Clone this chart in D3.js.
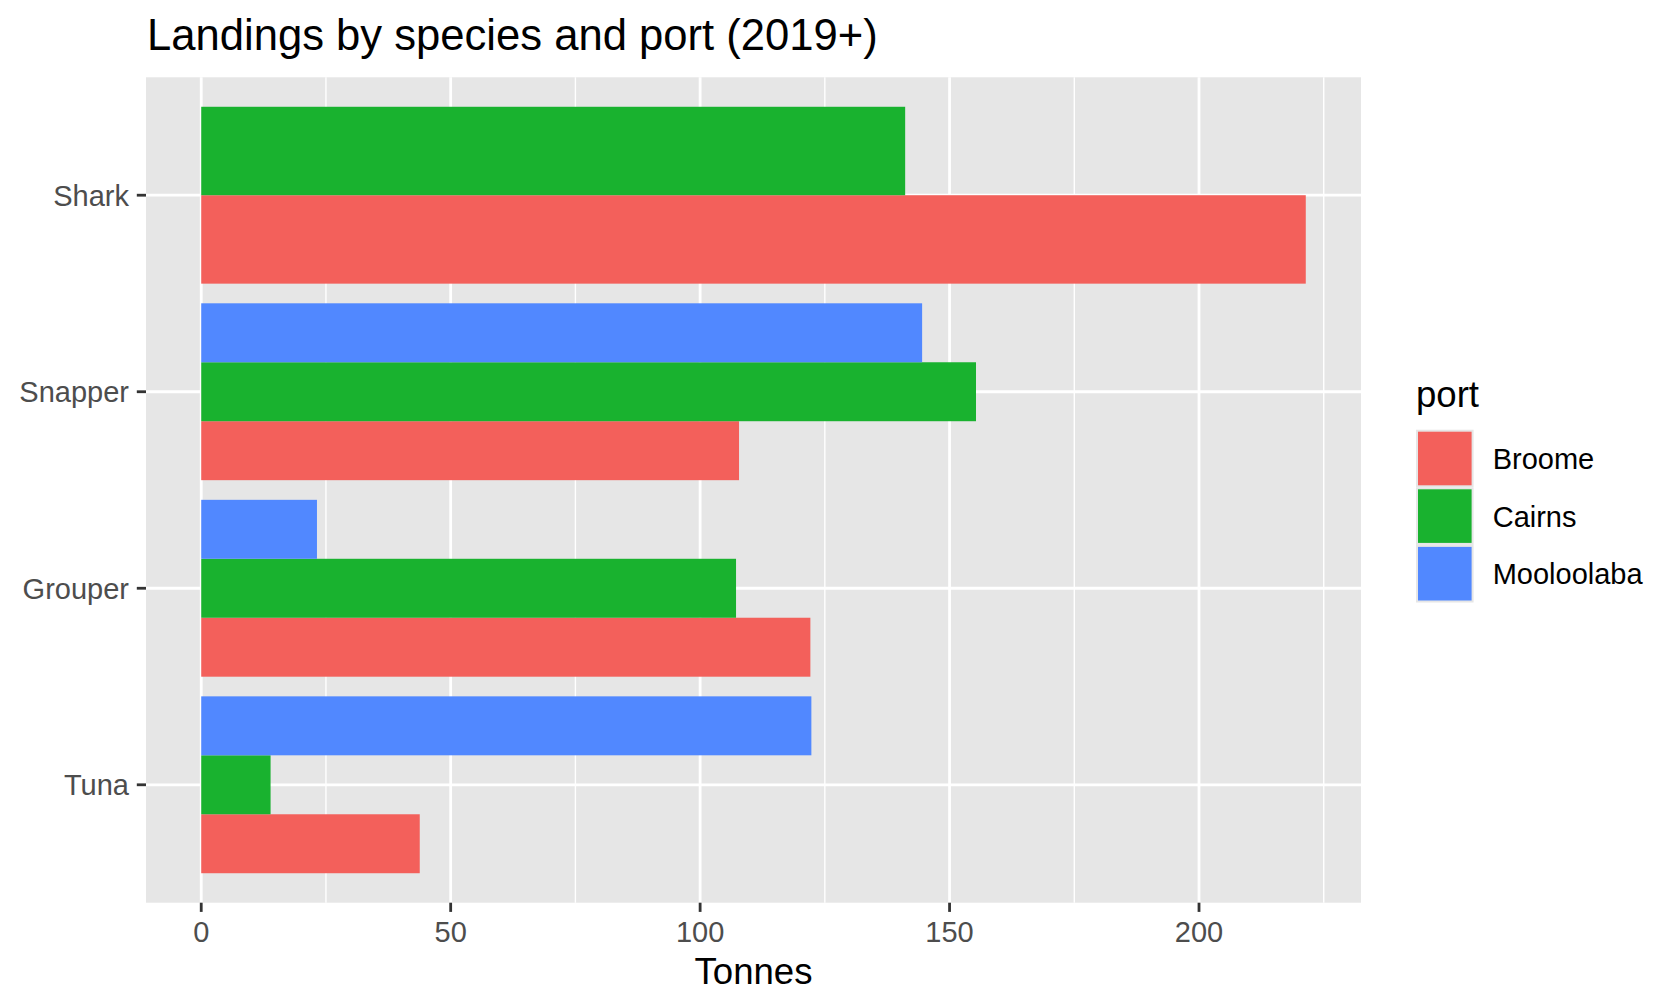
<!DOCTYPE html>
<html>
<head>
<meta charset="utf-8">
<script src="https://cdn.jsdelivr.net/npm/d3@7"></script>
<style>
  body { margin: 0; background: #fff; }
  text { font-family: "Liberation Sans", Arial, sans-serif; }
</style>
</head>
<body>
<div id="chart"></div>
<script>
const species = ["Shark", "Snapper", "Grouper", "Tuna"];
const ports = ["Broome", "Cairns", "Mooloolaba"];
const broome = [221.4, 107.8, 122.1, 43.8];
const cairns = [141.1, 155.3, 107.2, 13.9];
const mooloolaba = [null, 144.5, 23.2, 122.3];
const xMajor = [0, 50, 100, 150, 200];
const xMinor = [25, 75, 125, 175, 225];

const portColors = d3.scaleOrdinal()
    .domain(ports)
    .range(["#F3605B", "#19B22F", "#5188FF"]);

const width = 1680, height = 1008;
const panel = { left: 146, right: 1361, top: 77.3, bottom: 902.7 };

const svg = d3.select("#chart")
    .append("svg")
    .attr("width", width)
    .attr("height", height);

// Long rows from the series arrays
const series = [broome, cairns, mooloolaba];
const rows = [];
species.forEach((s, i) => {
    ports.forEach((p, j) => {
        if (series[j][i] != null) rows.push({ species: s, port: p, value: series[j][i] });
    });
});

// Scales (ggplot-like expansion: 5% continuous, 0.6 discrete)
const maxV = d3.max(rows, d => d.value);
const x = d3.scaleLinear()
    .domain([-0.05 * maxV, 1.05 * maxV])
    .range([panel.left, panel.right]);

const y = d3.scaleBand()
    .domain(species)
    .range([panel.top, panel.bottom])
    .paddingInner(0.1)
    .paddingOuter(0.15);

// Panel background
svg.append("rect")
    .attr("x", panel.left).attr("y", panel.top)
    .attr("width", panel.right - panel.left)
    .attr("height", panel.bottom - panel.top)
    .attr("fill", "#E6E6E6");

// Grid
svg.selectAll(".minor")
    .data(xMinor.filter(v => x(v) < panel.right))
    .enter().append("line")
    .attr("x1", d => x(d)).attr("x2", d => x(d))
    .attr("y1", panel.top).attr("y2", panel.bottom)
    .attr("stroke", "#fff").attr("stroke-width", 1.4);

svg.selectAll(".majorx")
    .data(xMajor)
    .enter().append("line")
    .attr("x1", d => x(d)).attr("x2", d => x(d))
    .attr("y1", panel.top).attr("y2", panel.bottom)
    .attr("stroke", "#fff").attr("stroke-width", 2.8);

svg.selectAll(".majory")
    .data(species)
    .enter().append("line")
    .attr("x1", panel.left).attr("x2", panel.right)
    .attr("y1", d => y(d) + y.bandwidth() / 2)
    .attr("y2", d => y(d) + y.bandwidth() / 2)
    .attr("stroke", "#fff").attr("stroke-width", 2.8);

// Bars, dodged within each species band (Broome at bottom)
species.forEach(s => {
    const present = rows.filter(d => d.species === s);
    const inner = d3.scaleBand()
        .domain(present.map(d => d.port).reverse())
        .range([y(s), y(s) + y.bandwidth()]);
    svg.append("g").selectAll("rect")
        .data(present)
        .enter().append("rect")
        .attr("x", x(0))
        .attr("y", d => inner(d.port))
        .attr("width", d => x(d.value) - x(0))
        .attr("height", inner.bandwidth())
        .attr("fill", d => portColors(d.port));
});

// Y axis
const yAxis = svg.append("g").attr("class", "y-axis");
species.forEach(s => {
    const cy = y(s) + y.bandwidth() / 2;
    yAxis.append("line")
        .attr("x1", panel.left - 9.2).attr("x2", panel.left)
        .attr("y1", cy).attr("y2", cy)
        .attr("stroke", "#333333").attr("stroke-width", 2.8);
    yAxis.append("text")
        .attr("x", panel.left - 17)
        .attr("y", cy + 10.5)
        .attr("text-anchor", "end")
        .attr("font-size", "29px")
        .attr("fill", "#4D4D4D")
        .text(s);
});

// X axis
const xAxis = svg.append("g").attr("class", "x-axis");
xMajor.forEach(v => {
    xAxis.append("line")
        .attr("x1", x(v)).attr("x2", x(v))
        .attr("y1", panel.bottom).attr("y2", panel.bottom + 9.2)
        .attr("stroke", "#333333").attr("stroke-width", 2.8);
    xAxis.append("text")
        .attr("x", x(v))
        .attr("y", 941.5)
        .attr("text-anchor", "middle")
        .attr("font-size", "29px")
        .attr("fill", "#4D4D4D")
        .text(v);
});

svg.append("text")
    .attr("x", (panel.left + panel.right) / 2)
    .attr("y", 984)
    .attr("text-anchor", "middle")
    .attr("font-size", "36.6px")
    .attr("fill", "#000")
    .text("Tonnes");

// Title
svg.append("text")
    .attr("x", 147)
    .attr("y", 49.5)
    .attr("font-size", "43.6px")
    .attr("fill", "#000")
    .text("Landings by species and port (2019+)");

// Legend
const legend = svg.append("g").attr("transform", "translate(1416,0)");
legend.append("text")
    .attr("x", 0).attr("y", 407)
    .attr("font-size", "36.6px")
    .attr("fill", "#000")
    .text("port");
ports.forEach((p, i) => {
    const top = 429.7 + i * 57.6;
    legend.append("rect")
        .attr("x", 0).attr("y", top)
        .attr("width", 57.6).attr("height", 57.6)
        .attr("fill", "#E6E6E6");
    legend.append("rect")
        .attr("x", 2).attr("y", top + 2)
        .attr("width", 53.6).attr("height", 53.6)
        .attr("fill", portColors(p));
    legend.append("text")
        .attr("x", 76.7).attr("y", top + 39.5)
        .attr("font-size", "29px")
        .attr("fill", "#000")
        .text(p);
});
</script>
</body>
</html>
